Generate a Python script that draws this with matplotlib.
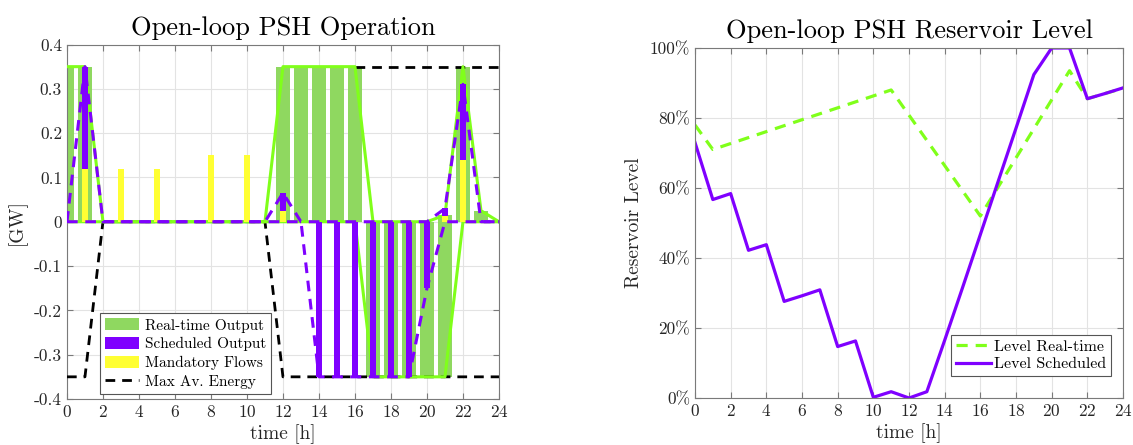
import numpy as np
import matplotlib
matplotlib.use('Agg')
import matplotlib.pyplot as plt
from matplotlib.ticker import FuncFormatter, MultipleLocator

plt.rcParams['font.family'] = ['cmr10', 'DejaVu Serif']
plt.rcParams['mathtext.fontset'] = 'cm'
plt.rcParams['axes.formatter.use_mathtext'] = True

# hourly data
hours = np.arange(25)
rt_gen = [0.35, 0.35, 0, 0, 0, 0, 0, 0, 0, 0, 0, 0,
          0.35, 0.35, 0.35, 0.35, 0.35, 0, 0, 0, 0, 0.015, 0.35, 0.025, 0]
rt_pump = [0, 0, 0, 0, 0, 0, 0, 0, 0, 0, 0, 0,
           0, 0, 0, 0, 0, -0.35, -0.35, -0.35, -0.35, -0.35, 0, 0, 0]
sched_gen = [0, 0.35, 0, 0, 0, 0, 0, 0, 0, 0, 0, 0,
             0.065, 0, 0, 0, 0, 0, 0, 0, 0, 0.03, 0.31, 0, 0]
sched_pump = [0, 0, 0, 0, 0, 0, 0, 0, 0, 0, 0, 0,
              0, 0, -0.35, -0.35, -0.35, -0.35, -0.35, -0.35, -0.15, 0, 0, 0, 0]
mandatory = [0, 0.12, 0, 0.12, 0, 0.12, 0, 0, 0.15, 0, 0.15, 0,
             0.025, 0, 0, 0, 0, 0, 0, 0, 0, 0.012, 0.14, 0, 0]
nan = np.nan
max_gen = [nan, nan, nan, nan, nan, nan, nan, nan, nan, nan, nan, nan,
           nan, nan, nan, nan, 0.35, 0.35, 0.35, 0.35, 0.35, 0.35, 0.35, 0.35, 0.35]
max_pump = [-0.35, -0.35, 0, 0, 0, 0, 0, 0, 0, 0, 0, 0,
            -0.35, -0.35, -0.35, -0.35, -0.35, -0.35, -0.35, -0.35, -0.35, -0.35, -0.35, -0.35, -0.35]

level_rt = [78, 71, 72.7, 74.4, 76.1, 77.8, 79.5, 81.2, 82.9, 84.6, 86.3, 88,
            80.8, 73.6, 66.4, 59.2, 52, 60.3, 68.6, 76.9, 85.2, 93.5, 85.5, 87, 88.5]
level_sched = [73, 56.7, 58.4, 42.2, 43.8, 27.6, 29.2, 30.9, 14.7, 16.3, 0.2, 1.8,
               0, 1.8, 16.5, 31.5, 46.7, 61.9, 77.1, 92.4, 100, 100, 85.5, 87, 88.6]

green_bar = '#8FD860'
lime = '#80FF1A'
purple = '#7F00FF'
yellow = '#FFFF33'
txt = '#262626'


def style_axes(ax):
    ax.grid(True, color='#E3E3E3', lw=0.8)
    ax.set_axisbelow(True)
    for s in ax.spines.values():
        s.set_color('#7A7A7A')
        s.set_linewidth(0.8)
    ax.tick_params(direction='in', top=True, right=True, length=4,
                   color='#7A7A7A', labelcolor=txt, labelsize=12.5)
    ax.set_xlim(0, 24)
    ax.xaxis.set_major_locator(MultipleLocator(2))


fig = plt.figure(figsize=(11.33, 4.45), dpi=100)

# ---- left: operation
ax1 = fig.add_axes([0.0591, 0.1034, 0.3813, 0.7966])
style_axes(ax1)
b_rt = ax1.bar(hours, rt_gen, width=0.8, color=green_bar, zorder=2)
ax1.bar(hours, rt_pump, width=0.8, color=green_bar, zorder=2)
ax1.plot(hours, max_gen, '--', color='k', lw=2, dashes=(3.5, 2.5), zorder=3)
l_max, = ax1.plot(hours, max_pump, '--', color='k', lw=2, dashes=(3.5, 2.5), zorder=3)
ax1.plot(hours, rt_gen, color=lime, lw=2.2, zorder=4)
ax1.plot(hours, rt_pump, color=lime, lw=2.2, zorder=4)
b_sc = ax1.bar(hours, sched_gen, width=0.3, color=purple, zorder=5)
ax1.bar(hours, sched_pump, width=0.3, color=purple, zorder=5)
b_mf = ax1.bar(hours, mandatory, width=0.3, color=yellow, zorder=6)
ax1.plot(hours, sched_gen, '--', color=purple, lw=2.2, dashes=(3.5, 2.5), zorder=7)
ax1.plot(hours, sched_pump, '--', color=purple, lw=2.2, dashes=(3.5, 2.5), zorder=7)

ax1.set_ylim(-0.4, 0.4)
ax1.yaxis.set_major_locator(MultipleLocator(0.1))
ax1.yaxis.set_major_formatter(FuncFormatter(lambda v, p: '%g' % round(v, 2)))
ax1.set_title('Open-loop PSH Operation', fontsize=19, color='k', pad=7)
ax1.set_xlabel('time [h]', fontsize=14, color=txt, labelpad=3)
ax1.set_ylabel('[GW]', fontsize=14, color=txt, labelpad=5)

leg1 = ax1.legend([b_rt.patches[0], b_sc.patches[0], b_mf.patches[0], l_max],
                  ['Real-time Output', 'Scheduled Output', 'Mandatory Flows', 'Max Av. Energy'],
                  loc='lower left', bbox_to_anchor=(0.076, 0.014), borderaxespad=0,
                  fontsize=11, fancybox=False, framealpha=1, edgecolor='#555555',
                  handlelength=2.2, handleheight=0.85, labelspacing=0.28,
                  borderpad=0.35, handletextpad=0.4)
leg1.get_frame().set_linewidth(0.8)

# ---- right: reservoir level
ax2 = fig.add_axes([0.6134, 0.1056, 0.3778, 0.7866])
style_axes(ax2)
ax2.plot(hours, level_rt, '--', color=lime, lw=2.3, dashes=(3.5, 2.5), label='Level Real-time')
ax2.plot(hours, level_sched, color=purple, lw=2.3, label='Level Scheduled')
ax2.set_ylim(0, 100)
ax2.yaxis.set_major_locator(MultipleLocator(20))
ax2.yaxis.set_major_formatter(FuncFormatter(lambda v, p: '%d%%' % round(v)))
ax2.set_title('Open-loop PSH Reservoir Level', fontsize=19, color='k', pad=7)
ax2.set_xlabel('time [h]', fontsize=14, color=txt, labelpad=3)
ax2.set_ylabel('Reservoir Level', fontsize=14, color=txt, labelpad=5)
leg2 = ax2.legend(loc='lower right', bbox_to_anchor=(0.972, 0.063), borderaxespad=0,
                  fontsize=11.5, fancybox=False, framealpha=1, edgecolor='#555555',
                  handlelength=2.2, labelspacing=0.2, borderpad=0.3, handletextpad=0.2)
leg2.get_frame().set_linewidth(0.8)

fig.savefig('out.png', dpi=100)
